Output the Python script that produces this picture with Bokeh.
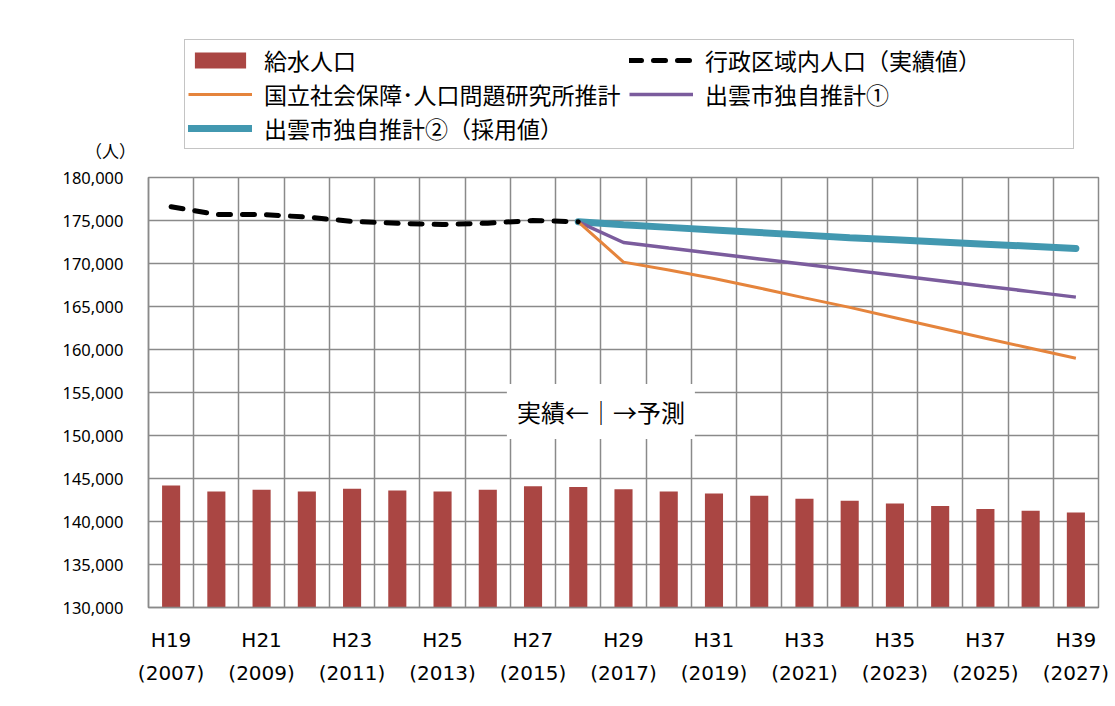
from bokeh.plotting import figure
from bokeh.layouts import column
from bokeh.models import (Legend, LegendItem, FixedTicker, NumeralTickFormatter,
                          Label, Range1d)
from bokeh.embed import file_html
from bokeh.resources import INLINE

# ---- data ----
years = list(range(2007, 2028))
tick_years = list(range(2007, 2028, 2))
tick_labels = ["H19\n(2007)", "H21\n(2009)", "H23\n(2011)", "H25\n(2013)", "H27\n(2015)",
               "H29\n(2017)", "H31\n(2019)", "H33\n(2021)", "H35\n(2023)", "H37\n(2025)",
               "H39\n(2027)"]

kyusui = [144200, 143500, 143700, 143500, 143800, 143600, 143500, 143700, 144100, 144000,
          143750, 143500, 143250, 143000, 142650, 142400, 142100, 141800, 141450, 141250,
          141050]

actual_years = list(range(2007, 2017))
gyosei = [176600, 175700, 175700, 175400, 174900, 174670, 174530, 174690, 175000, 174850]

proj_years = list(range(2016, 2028))
ipss = [174850, 170160, 169250, 168250, 167150, 166000, 164900, 163700, 162500, 161300,
        160150, 158990]
own1 = [174850, 172440, 171800, 171170, 170530, 169900, 169260, 168630, 168000, 167360,
        166730, 166090]
own2 = [174850, 174500, 174200, 173900, 173600, 173300, 173000, 172750, 172500, 172250,
        172000, 171750]

names = ["給水人口", "行政区域内人口（実績値）", "国立社会保障･人口問題研究所推計",
         "出雲市独自推計①", "出雲市独自推計②（採用値）"]

GRID = "#8a8a8a"
C_BAR, C_IPSS, C_OWN1, C_OWN2 = "#AA4643", "#E5843C", "#7B5C9D", "#4298B0"

W = 1115
TOP_H = 167
MAIN_H = 706 - TOP_H


def draw_series(fig):
    rb = fig.vbar(x=years, top=kyusui, bottom=130000, width=0.4, fill_color=C_BAR,
                  line_color=None)
    r2 = fig.line(proj_years, own2, line_color=C_OWN2, line_width=7, line_cap="round")
    r1 = fig.line(proj_years, own1, line_color=C_OWN1, line_width=3.5)
    ri = fig.line(proj_years, ipss, line_color=C_IPSS, line_width=3)
    rg = fig.line(actual_years, gyosei, line_color="black", line_width=5,
                  line_dash="12 12", line_cap="round")
    return rb, rg, ri, r1, r2


# ---------------- top strip: legend and unit ----------------
t = figure(width=W, height=TOP_H, output_backend="svg", toolbar_location=None,
           x_range=Range1d(0, W), y_range=Range1d(0, TOP_H),
           x_axis_location=None, y_axis_location=None,
           min_border_left=0, min_border_right=0, min_border_top=0, min_border_bottom=0)
t.frame_align = False
t.grid.visible = False
t.outline_line_color = None
t.background_fill_color = "white"
t.border_fill_color = "white"

# the same series, outside this strip's visible range: they only feed the legend
lb, lg, li, l1, l2 = draw_series(t)

legend = Legend(items=[
    LegendItem(label=names[0], renderers=[lb]),
    LegendItem(label=names[1], renderers=[lg]),
    LegendItem(label=names[2], renderers=[li]),
    LegendItem(label=names[3], renderers=[l1]),
    LegendItem(label=names[4], renderers=[l2]),
], location=(184, TOP_H - 149), orientation="horizontal", ncols=2)
legend.border_line_color = GRID
legend.border_line_width = 1.5
legend.background_fill_color = "white"
legend.background_fill_alpha = 1
legend.padding = 3
legend.spacing = 0
legend.margin = 0
legend.glyph_width = 64
legend.glyph_height = 20
legend.label_height = 20
legend.label_width = 365
legend.label_standoff = 12
legend.label_text_font = "Noto Sans CJK JP"
legend.label_text_font_size = "23px"
legend.label_text_color = "black"
legend.label_text_baseline = "middle"
t.add_layout(legend, "center")

t.add_layout(Label(x=110, y=TOP_H - 150, text="（人）", text_align="center",
                   text_baseline="middle", text_font="Noto Sans CJK JP",
                   text_font_size="17px", text_color="black"))

# ---------------- main chart ----------------
p = figure(width=W, height=MAIN_H, output_backend="svg", toolbar_location=None,
           x_range=Range1d(2006.5, 2027.5), y_range=Range1d(130000, 180000),
           min_border_left=148, min_border_right=17, min_border_top=177 - TOP_H,
           min_border_bottom=99)
p.frame_align = False
p.background_fill_color = "white"
p.border_fill_color = "white"
p.outline_line_color = GRID
p.outline_line_width = 1.5

draw_series(p)

p.yaxis.ticker = FixedTicker(ticks=list(range(130000, 180001, 5000)))
p.yaxis.formatter = NumeralTickFormatter(format="0,0")
p.yaxis.major_label_text_font = "Noto Sans"
p.yaxis.major_label_text_font_size = "16.5px"
p.yaxis.major_label_text_color = "black"
p.yaxis.major_label_standoff = 25

p.xaxis.ticker = FixedTicker(ticks=tick_years)
p.xaxis.major_label_overrides = {y: l for y, l in zip(tick_years, tick_labels)}
p.xaxis.major_label_text_font = "DejaVu Sans"
p.xaxis.major_label_text_font_size = "20px"
p.xaxis.major_label_text_color = "black"
p.xaxis.major_label_text_line_height = 1.4
p.xaxis.major_label_standoff = 20

for ax in (p.xaxis, p.yaxis):
    ax.axis_line_color = GRID
    ax.axis_line_width = 1.5
    ax.major_tick_out = 0
    ax.major_tick_in = 0
    ax.minor_tick_out = 0
    ax.minor_tick_in = 0

p.xgrid.ticker = FixedTicker(ticks=[2006.5 + i for i in range(22)])
p.ygrid.ticker = FixedTicker(ticks=list(range(130000, 180001, 5000)))
for g in (p.xgrid, p.ygrid):
    g.grid_line_color = GRID
    g.grid_line_width = 1.5

p.add_layout(Label(x=2016.5, y=152800, text="実績←｜→予測", text_align="center",
                   text_baseline="middle", text_font="Noto Sans CJK JP",
                   text_font_size="24px", text_color="black",
                   background_fill_color="white", padding=10))

layout = column(t, p, spacing=0)
open("out.html", "w").write(file_html(layout, INLINE))
